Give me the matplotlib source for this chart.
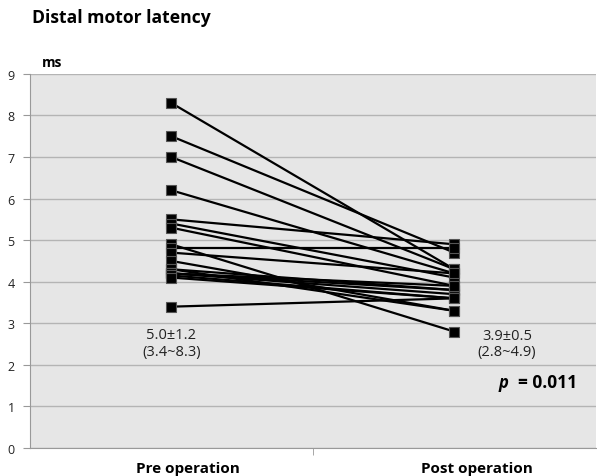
import matplotlib.pyplot as plt
import numpy as np

plt.rcParams['font.family'] = ['Open Sans', 'DejaVu Sans']

groups = ['Pre operation', 'Post operation']
pre = [8.3, 7.5, 7.0, 6.2, 5.5, 5.4, 5.3, 4.9, 4.8, 4.7, 4.5,
       4.3, 4.3, 4.2, 4.2, 4.2, 4.15, 4.1, 3.4]
post = [4.3, 4.7, 4.3, 4.2, 4.9, 4.1, 3.9, 2.8, 4.8, 4.2, 3.3,
        3.3, 3.8, 3.8, 3.7, 3.9, 3.6, 3.6, 3.6]
pre_note = ['5.0\u00b11.2', '(3.4~8.3)']
post_note = ['3.9\u00b10.5', '(2.8~4.9)']
p_text = '0.011'

fig = plt.figure(figsize=(5.97, 4.77), dpi=100)
ax = fig.add_axes([0.050, 0.0587, 0.948, 0.7843])
ax.set_facecolor('#e6e6e6')

for a, b in zip(pre, post):
    ax.plot([0, 1], [a, b], color='black', lw=1.6, marker='s', ms=6.5,
            mfc='black', mec='#555555', mew=0.8, zorder=3)

ax.set_xlim(-0.5, 1.5)
ax.set_ylim(0, 9)
ax.set_yticks(range(10))
ax.yaxis.grid(True, color='#b4b4b4', lw=1)
ax.set_axisbelow(True)

# category labels sit a little right of the markers in the original
ax.set_xticks([0.057, 1.08])
ax.set_xticklabels(groups, fontsize=11, fontweight='bold')
ax.set_xticks([0.5], minor=True)
ax.tick_params(axis='x', which='major', length=0, pad=9)
ax.tick_params(axis='x', which='minor', length=5, color='#999999')
ax.tick_params(axis='y', length=5, color='#999999', labelsize=9,
               labelcolor='#222222', pad=6)

for s in ['right', 'top']:
    ax.spines[s].set_visible(False)
ax.spines['left'].set_color('#999999')
ax.spines['bottom'].set_color('#999999')

note_kw = dict(ha='center', va='center', fontsize=10.5, color='#222222')
ax.text(0, 2.74, pre_note[0], **note_kw)
ax.text(0, 2.33, pre_note[1], **note_kw)
ax.text(1.186, 2.70, post_note[0], **note_kw)
ax.text(1.186, 2.33, post_note[1], **note_kw)
ax.text(1.19, 1.59, 'p', ha='right', va='center', fontsize=12,
        fontweight='bold', fontstyle='italic')
ax.text(1.433, 1.59, '= ' + p_text, ha='right', va='center', fontsize=12.5,
        fontweight='bold')

fig.text(0.054, 0.962, 'Distal motor latency', fontsize=12.6, fontweight='bold',
         va='center')
fig.text(0.070, 0.867, 'ms', fontsize=10, fontweight='bold', va='center')

fig.savefig('out.png', dpi=100)
